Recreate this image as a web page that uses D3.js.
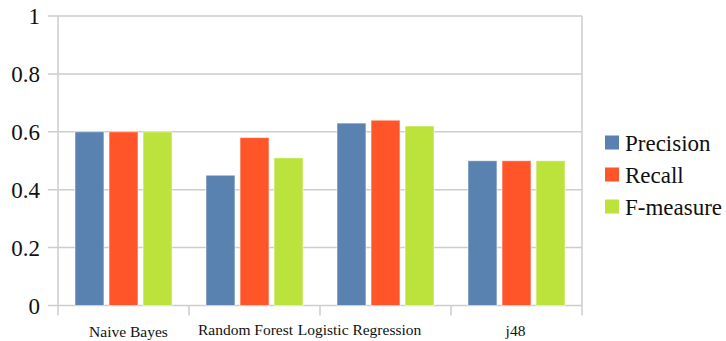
<!DOCTYPE html>
<html><head><meta charset="utf-8">
<script src="https://cdn.jsdelivr.net/npm/d3@7"></script>
<style>body{margin:0;background:#fff} svg text{font-family:"Liberation Serif","Times New Roman",Times,"DejaVu Serif",serif;}</style>
</head><body>
<svg id="c" width="726" height="341"></svg>
<script>
const categories = ["Naive Bayes", "Random Forest", "Logistic Regression", "j48"];
const seriesNames = ["Precision", "Recall", "F-measure"];
const precision = [0.60, 0.45, 0.63, 0.50];
const recall    = [0.60, 0.58, 0.64, 0.50];
const fmeasure  = [0.60, 0.51, 0.62, 0.50];
const yTicks = [0, 0.2, 0.4, 0.6, 0.8, 1];
const yTickLabels = ["0", "0.2", "0.4", "0.6", "0.8", "1"];

const seriesValues = [precision, recall, fmeasure];
const colors = ["#5a82b0", "#ff5528", "#bce33b"];

const svg = d3.select("#c");
const L = 58, R = 582, T = 16, B = 305.5;
const x = d3.scaleBand().domain(categories).range([L, R]).paddingInner(0).paddingOuter(0);
const xs = d3.scaleBand().domain(seriesNames).range([0, x.bandwidth()]).paddingInner(0.15).paddingOuter(0.5);
const y = d3.scaleLinear().domain([0, 1]).range([B, T]);
const gridC = "#cdcdcd";

// gridlines + y ticks
svg.append("g").selectAll("line").data(yTicks).join("line")
  .attr("x1", L - 10).attr("x2", R).attr("y1", d => y(d)).attr("y2", d => y(d))
  .attr("stroke", gridC).attr("stroke-width", 1.5);
svg.append("g").selectAll("text").data(yTicks).join("text")
  .attr("x", 40).attr("y", d => y(d)).attr("dy", "0.35em")
  .attr("text-anchor", "end").attr("font-size", 23).attr("fill", "#111")
  .text((d, i) => yTickLabels[i]);

// axis line and right border
svg.append("line").attr("x1", L).attr("x2", L).attr("y1", T).attr("y2", B + 10).attr("stroke", gridC).attr("stroke-width", 1.5);
svg.append("line").attr("x1", R).attr("x2", R).attr("y1", T).attr("y2", B + 10).attr("stroke", gridC).attr("stroke-width", 1.5);
// category ticks
svg.append("g").selectAll("line").data(categories.slice(1)).join("line")
  .attr("x1", d => x(d)).attr("x2", d => x(d)).attr("y1", B).attr("y2", B + 10)
  .attr("stroke", gridC).attr("stroke-width", 1.5);

// bars
const g = svg.append("g");
categories.forEach((c, ci) => {
  seriesNames.forEach((s, si) => {
    const v = seriesValues[si][ci];
    g.append("rect")
      .attr("x", x(c) + xs(s)).attr("width", xs.bandwidth())
      .attr("y", y(v)).attr("height", y(0) - y(v))
      .attr("fill", colors[si])
      .attr("stroke", "#fff").attr("stroke-opacity", 0.5).attr("stroke-width", 1);
  });
});

// x labels (offsets mimic the original's label placement)
const labelDx = [5, -9, -26, -1];
const labelDy = [2, 0, 0, 1];
svg.append("g").selectAll("text").data(categories).join("text")
  .attr("x", (d, i) => x(d) + x.bandwidth() / 2 + labelDx[i])
  .attr("y", (d, i) => 334.5 + labelDy[i])
  .attr("text-anchor", "middle").attr("font-size", 15.5).attr("fill", "#111")
  .text(d => d);

// legend
const lg = svg.append("g");
seriesNames.forEach((s, i) => {
  const cy = 142.5 + i * 32;
  lg.append("rect").attr("x", 605).attr("y", cy - 7).attr("width", 14).attr("height", 14).attr("fill", colors[i]);
  lg.append("text").attr("x", 625).attr("y", cy).attr("dy", "0.35em")
    .attr("font-size", 23).attr("fill", "#111").text(s);
});
</script>
</body></html>
